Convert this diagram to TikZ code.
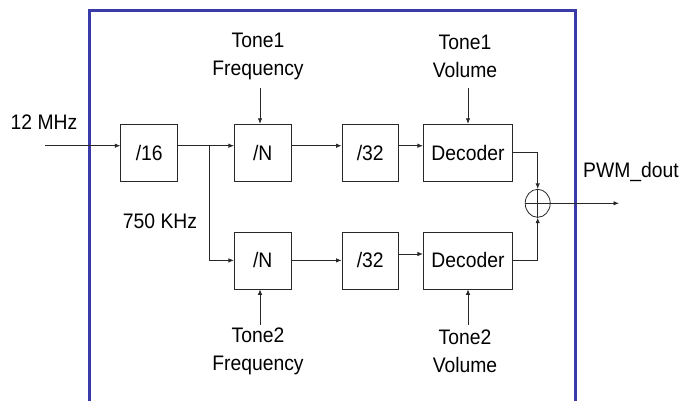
\documentclass[tikz,border=0pt]{standalone}
\usepackage{fontspec}
\setmainfont{Liberation Sans}[FakeStretch=0.92]
\usetikzlibrary{arrows.meta,shapes.geometric}
\definecolor{frameblue}{RGB}{58,58,168}
\definecolor{linegray}{RGB}{40,40,40}
\tikzset{
  blk/.style={draw=linegray,line width=0.8pt,minimum height=57pt,inner sep=0pt,font=\fontsize{21}{28}\selectfont},
  lbl/.style={inner sep=0pt,align=center,font=\fontsize{21}{28}\selectfont},
  arr/.style={draw=linegray,line width=0.8pt,-{Latex[length=5.5pt,width=4.5pt]}},
  wire/.style={draw=linegray,line width=0.8pt},
}
\begin{document}
\begin{tikzpicture}[x=1pt,y=-1pt]
\useasboundingbox (0,0) rectangle (683,400);
% frame
\draw[frameblue,line width=3pt] (89,405) -- (89,10) -- (575.5,10) -- (575.5,405);
% blocks
\node[blk,minimum width=57pt] (sixteen) at (149.2,152.7) {/16};
\node[blk,minimum width=56.7pt] (nA) at (262.7,152.7) {/N};
\node[blk,minimum width=56.7pt] (nB) at (262.7,260.4) {/N};
\node[blk,minimum width=56.5pt] (tA) at (370.2,152.7) {/32};
\node[blk,minimum width=56.5pt] (tB) at (370.2,260.4) {/32};
\node[blk,minimum width=89.4pt] (dA) at (468,152.7) {Decoder};
\node[blk,minimum width=89.4pt] (dB) at (468,260.4) {Decoder};
\node[draw=linegray,line width=0.8pt,ellipse,minimum width=25pt,minimum height=28pt,inner sep=0pt] (sum) at (537.7,203.3) {};
\draw[wire] (sum.west) -- (sum.east) (sum.north) -- (sum.south);
% labels
\node[lbl] (inlbl) at (44,122) {12 MHz};
\node[lbl] (midlbl) at (160,221.7) {750 KHz};
\node[lbl,anchor=west] (outlbl) at (583,171.7) {PWM\_dout};
\node[lbl] (t1f) at (258,56.7) {Tone1\\Frequency};
\node[lbl] (t1v) at (465,56.7) {Tone1\\Volume};
\node[lbl] (t2f) at (258,351.2) {Tone2\\Frequency};
\node[lbl] (t2v) at (465,351.2) {Tone2\\Volume};
% coordinates
\coordinate (in) at (45,145.7);
\coordinate (br) at (209,145.7);
\coordinate (out) at (619,203.3);
\coordinate (t1fa) at (260,88);
\coordinate (t1va) at (468,88);
\coordinate (t2fa) at (260,325);
\coordinate (t2va) at (468,325);
% connectors
\draw[arr] (in) -- ([yshift=7pt]sixteen.west);
\draw[arr] ([yshift=7pt]sixteen.east) -- ([yshift=7pt]nA.west);
\draw[arr] (br) |- (nB.west);
\draw[arr] ([yshift=7pt]nA.east) -- ([yshift=7pt]tA.west);
\draw[arr] ([yshift=7pt]tA.east) -- ([yshift=7pt]dA.west);
\draw[arr] (nB.east) -- (tB.west);
\draw[arr] ([yshift=6.4pt]tB.east) -- ([yshift=6.4pt]dB.west);
\draw[arr] (dA.east) -| (sum.north);
\draw[arr] (dB.east) -| (sum.south);
\draw[arr] (sum.east) -- (out);
\draw[arr] (t1fa) -- (t1fa |- nA.north);
\draw[arr] (t1va) -- (dA.north);
\draw[arr] (t2fa) -- (t2fa |- nB.south);
\draw[arr] (t2va) -- (dB.south);
\end{tikzpicture}
\end{document}
